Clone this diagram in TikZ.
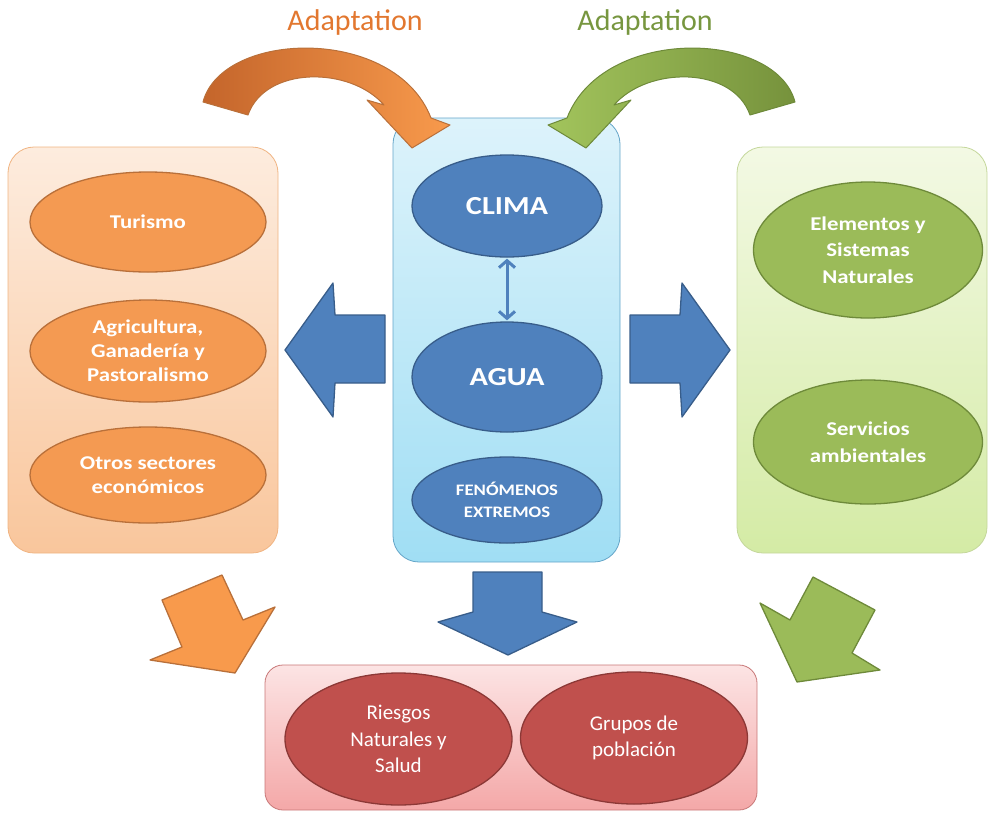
\documentclass[tikz,border=0pt]{standalone}
\usepackage{fontspec}
\setmainfont{Carlito}
\newfontfamily\widefont{Carlito}[FakeStretch=1.17]
\usetikzlibrary{shapes.geometric,arrows.meta}
\definecolor{orfill}{HTML}{F49A52}
\definecolor{ordraw}{HTML}{B9703A}
\definecolor{ordark}{HTML}{C4652B}
\definecolor{orlight}{HTML}{F89A4C}
\definecolor{ortext}{HTML}{E2772F}
\definecolor{blfill}{HTML}{4F81BD}
\definecolor{bldraw}{HTML}{385D8A}
\definecolor{grfill}{HTML}{9BBB59}
\definecolor{grdraw}{HTML}{6E8A3A}
\definecolor{grdark}{HTML}{76923C}
\definecolor{grlight}{HTML}{A2C45C}
\definecolor{grtext}{HTML}{77963F}
\definecolor{rdfill}{HTML}{C0504D}
\definecolor{rddraw}{HTML}{8C3836}
\begin{document}
\begin{tikzpicture}[x=1pt,y=-1pt,
  panel/.style={rectangle, rounded corners=26pt, line width=0.8pt, inner sep=0pt},
  ell/.style={ellipse, draw, line width=1.3pt, inner sep=0pt, text=white, align=center,
    font=\widefont\bfseries\fontsize{19.5}{24}\selectfont},
  bell/.style={ell, fill=blfill, draw=bldraw, minimum width=190pt},
  oell/.style={ell, fill=orfill, draw=ordraw, minimum width=236pt},
  gell/.style={ell, fill=grfill, draw=grdraw, minimum width=229pt},
  rell/.style={ell, fill=rdfill, draw=rddraw, minimum width=227pt, minimum height=132pt,
    font=\fontsize{21}{26.7}\selectfont},
  blockarrow/.style={fill=blfill, draw=bldraw, line width=1.3pt, line join=round},
  adapt/.style={font=\fontsize{30}{32}\selectfont}
]
\useasboundingbox (0,0) rectangle (989,815);

% panels
\node[panel, draw={rgb,255:red,240;green,180;blue,130}, top color={rgb,255:red,253;green,236;blue,222}, bottom color={rgb,255:red,249;green,198;blue,156},
  minimum width=270pt, minimum height=406pt] (lp) at (143,350) {};
\node[panel, draw={rgb,255:red,100;green,165;blue,200}, top color={rgb,255:red,221;green,243;blue,251}, bottom color={rgb,255:red,160;green,222;blue,244},
  minimum width=227pt, minimum height=444pt] (cp) at (506.5,340) {};
\node[panel, draw={rgb,255:red,196;green,215;blue,155}, top color={rgb,255:red,243;green,249;blue,228}, bottom color={rgb,255:red,212;green,235;blue,165},
  minimum width=250pt, minimum height=406pt] (rp) at (862,350) {};
\node[panel, rounded corners=18pt, draw={rgb,255:red,200;green,120;blue,120}, top color={rgb,255:red,252;green,228;blue,228}, bottom color={rgb,255:red,244;green,168;blue,168},
  minimum width=492pt, minimum height=145pt] (bp) at (511,737.5) {};

% ellipses left
\node[oell, minimum height=100pt] (tur) at (148,222) {Turismo};
\node[oell, minimum height=102pt] (agr) at (148,351) {Agricultura,\\Ganadería y\\Pastoralismo};
\node[oell, minimum height=96pt] (otr) at (148,475) {Otros sectores\\económicos};

% ellipses center
\node[bell, minimum height=102pt, font=\widefont\bfseries\fontsize{26}{28}\selectfont] (clima) at (507,206) {CLIMA};
\node[bell, minimum height=110pt, font=\widefont\bfseries\fontsize{26}{28}\selectfont] (agua) at (507,377) {AGUA};
\node[bell, minimum height=86pt, font=\widefont\bfseries\fontsize{16}{22}\selectfont] (fen) at (507,500) {FENÓMENOS\\EXTREMOS};
\draw[draw=blfill, line width=3pt, shorten <=1pt, shorten >=1pt,
  {Straight Barb[length=7pt,width=16pt]}-{Straight Barb[length=7pt,width=16pt]}] (clima.south) -- (agua.north);

% ellipses right
\node[gell, minimum height=136pt, font=\widefont\bfseries\fontsize{19.5}{26.5}\selectfont] (ele) at (868,250) {Elementos y\\Sistemas\\Naturales};
\node[gell, minimum height=124pt, font=\widefont\bfseries\fontsize{19.5}{27}\selectfont] (ser) at (868,442) {Servicios\\ambientales};

% ellipses bottom
\node[rell] (rie) at (398.5,739) {Riesgos\\Naturales y\\Salud};
\node[rell] (gru) at (634,738) {Grupos de\\población};

% blue block arrows
\draw[blockarrow] (285,350) -- (333,283) -- (335,315) -- (385,315) -- (385,383) -- (335,383) -- (333,417) -- cycle;
\draw[blockarrow] (730,350) -- (682,283) -- (680,315) -- (630,315) -- (630,383) -- (680,383) -- (682,417) -- cycle;
\draw[blockarrow] (473,572) -- (542,572) -- (542,612) -- (577,622) -- (508,655) -- (438,622) -- (473,612) -- cycle;

% diagonal arrows
\draw[fill=orlight, draw=ordraw, line width=1.3pt, line join=round] (162,600) -- (222,575) -- (243,620) -- (275,607) -- (235,673) -- (150,660) -- (182,647) -- cycle;
\draw[fill=grfill, draw=grdraw, line width=1.3pt, line join=round] (813,577) -- (875,610) -- (852,653) -- (880,670) -- (797,682) -- (760,603) -- (790,620) -- cycle;

% curved adaptation arrows
\draw[left color=ordark, right color=orlight, draw=ordraw, line width=1pt, line join=round]
  (203,102) .. controls (222,30) and (395,25) .. (431,118) -- (450,125) -- (412,148) -- (367,100) -- (384,105)
  .. controls (350,66) and (265,66) .. (248,115) -- cycle;
\draw[left color=grlight, right color=grdark, draw=grdraw, line width=1pt, line join=round]
  (795,102) .. controls (776,30) and (603,25) .. (567,118) -- (548,125) -- (586,148) -- (631,100) -- (614,105)
  .. controls (648,66) and (733,66) .. (750,115) -- cycle;

\node[adapt, text=ortext] (ad1) at (355,22) {Adaptation};
\node[adapt, text=grtext] (ad2) at (645,22) {Adaptation};
\end{tikzpicture}
\end{document}
